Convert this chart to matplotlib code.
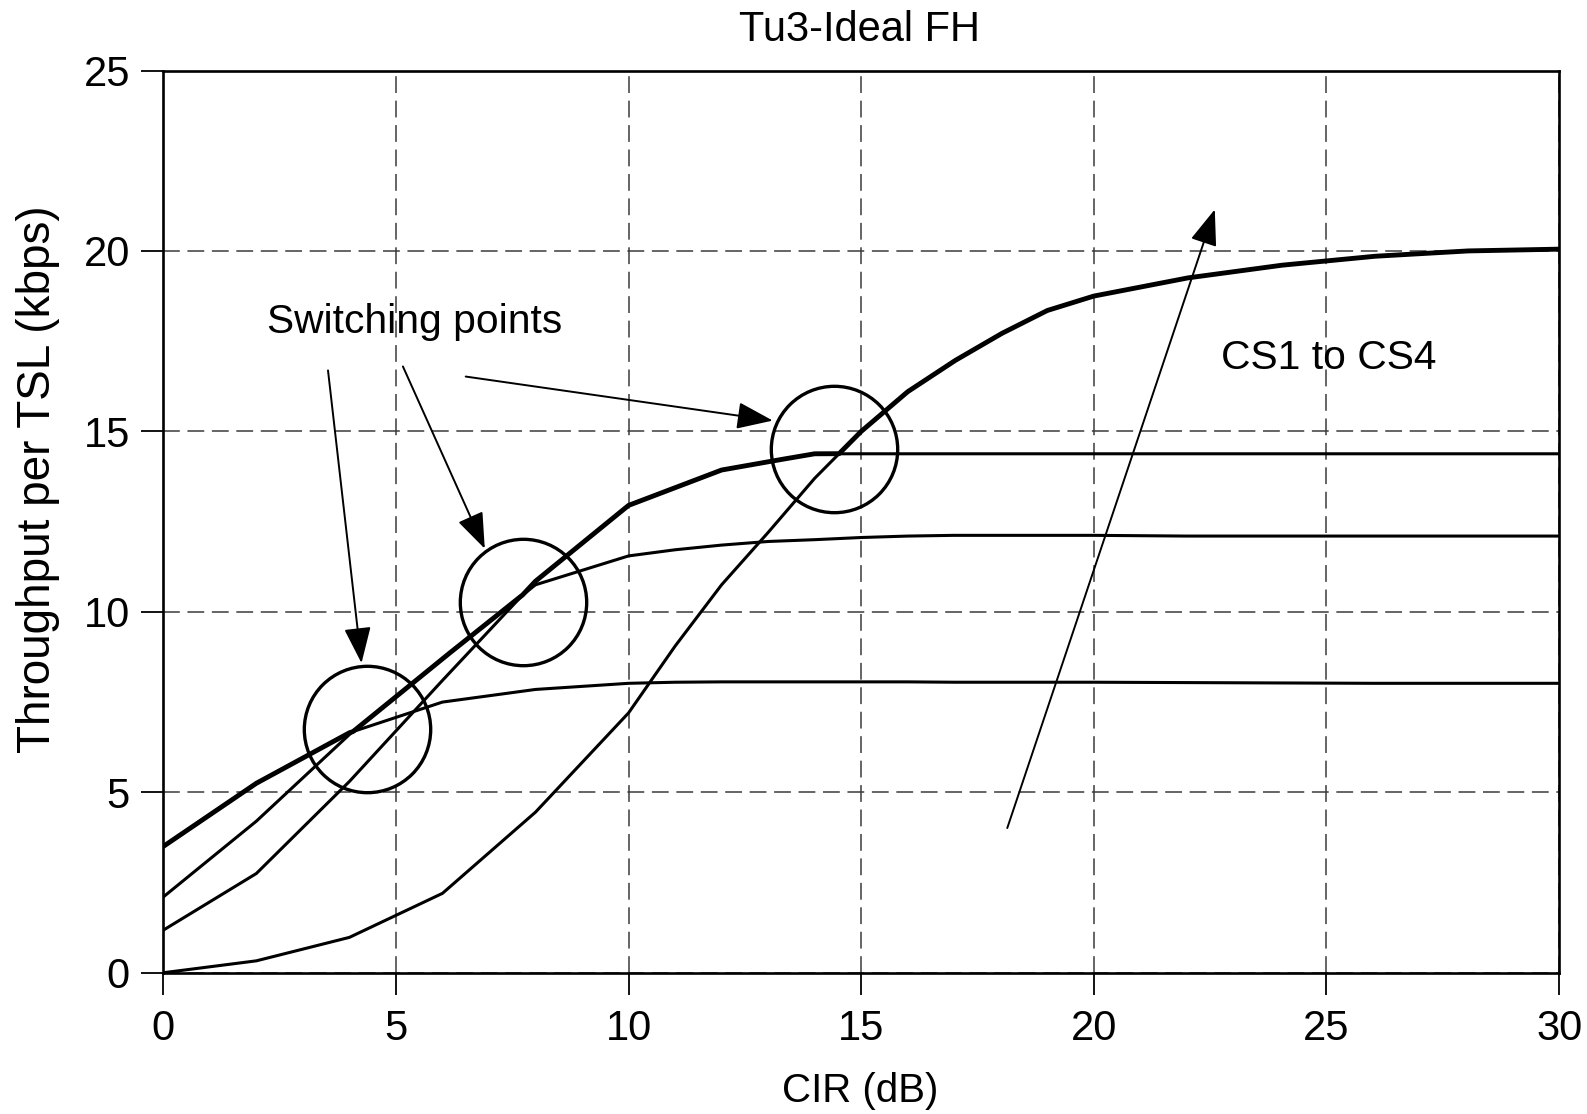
import numpy as np
import matplotlib
matplotlib.use('Agg')
import matplotlib.pyplot as plt

plt.rcParams['font.family'] = ['Liberation Sans', 'DejaVu Sans']

# throughput per timeslot (kbps)
cir = [0, 2, 4, 6, 8, 10, 11, 12, 13, 14, 15, 16, 17, 18, 19, 20, 22, 24, 26, 28, 30]
cs1 = [3.5, 5.25, 6.65, 7.5, 7.85, 8.02, 8.05, 8.06, 8.06, 8.06, 8.06, 8.06, 8.05,
       8.05, 8.05, 8.05, 8.04, 8.03, 8.02, 8.02, 8.02]
cs2 = [2.1, 4.2, 6.6, 8.7, 10.75, 11.55, 11.72, 11.85, 11.95, 12.0, 12.06, 12.1, 12.12,
       12.12, 12.12, 12.12, 12.1, 12.1, 12.1, 12.1, 12.1]
cs3 = [1.18, 2.75, 5.3, 8.1, 10.85, 12.95, 13.44, 13.93, 14.16, 14.38, 14.38, 14.38,
       14.38, 14.38, 14.38, 14.38, 14.38, 14.38, 14.38, 14.38, 14.38]
cs4 = [0.0, 0.33, 0.98, 2.2, 4.45, 7.2, 9.05, 10.75, 12.2, 13.7, 15.0, 16.1, 16.95,
       17.7, 18.35, 18.75, 19.25, 19.6, 19.85, 20.0, 20.05]
curves = [cs1, cs2, cs3, cs4]

# annotation positions (data units)
switch_circles = [(4.37, 6.76), (7.74, 10.27), (14.42, 14.52)]
switch_arrows = [((3.54, 16.69), (4.26, 8.58)),
                 ((5.15, 16.80), (6.91, 11.75)),
                 ((6.50, 16.52), (13.10, 15.30))]
cs_arrow = ((18.14, 4.01), (22.60, 21.15))

fig = plt.figure(figsize=(15.87, 11.14), dpi=100)
ax = fig.add_axes([0.1029, 0.1268, 0.8795, 0.8099])

for vals in curves:
    ax.plot(cir, vals, color='black', lw=2.2, zorder=3)

# the link adaptation envelope is drawn thicker on top
xf = np.linspace(0, 30, 1201)
env = np.max([np.interp(xf, cir, v) for v in curves], axis=0)
ax.plot(xf, env, color='black', lw=3.5, zorder=4, solid_capstyle='round')

cx, cy = zip(*switch_circles)
ax.plot(cx, cy, 'o', ms=91, mfc='none', mec='black', mew=2.4, zorder=5)

head = dict(arrowstyle='-|>,head_length=0.8,head_width=0.3', mutation_scale=28,
            color='black', lw=1.4, shrinkA=0, shrinkB=0)
for start, end in switch_arrows:
    ax.annotate('', xy=end, xytext=start, arrowprops=head, zorder=6)
ax.annotate('', xy=cs_arrow[1], xytext=cs_arrow[0], arrowprops=head, zorder=6)

ax.text(5.41, 18.02, 'Switching points', fontsize=29.3, ha='center', va='center')
ax.text(25.05, 17.03, 'CS1 to CS4', fontsize=29.3, ha='center', va='center')

ax.set_xlim(0, 30)
ax.set_ylim(0, 25)
ax.set_xticks(range(0, 31, 5))
ax.set_yticks(range(0, 26, 5))
ax.grid(True, color='#3a3a3a', lw=1.1, ls=(0, (11, 5)))
ax.set_axisbelow(True)
for sp in ax.spines.values():
    sp.set_linewidth(1.9)
ax.tick_params(direction='out', length=16, width=1.3, labelsize=30)
ax.tick_params(axis='x', pad=10)
ax.tick_params(axis='y', pad=8)

ax.set_xlabel('CIR (dB)', fontsize=29)
ax.xaxis.label.set_va('center')
ax.xaxis.set_label_coords(0.4996, -0.1311)
ax.set_ylabel('Throughput per TSL (kbps)', fontsize=33)
ax.yaxis.label.set_va('center')
ax.yaxis.set_label_coords(-0.0901, 0.5465)
ax.text(0.4985, 1.0449, 'Tu3-Ideal FH', transform=ax.transAxes, fontsize=30,
        ha='center', va='center')

fig.savefig('out.png', dpi=100)
